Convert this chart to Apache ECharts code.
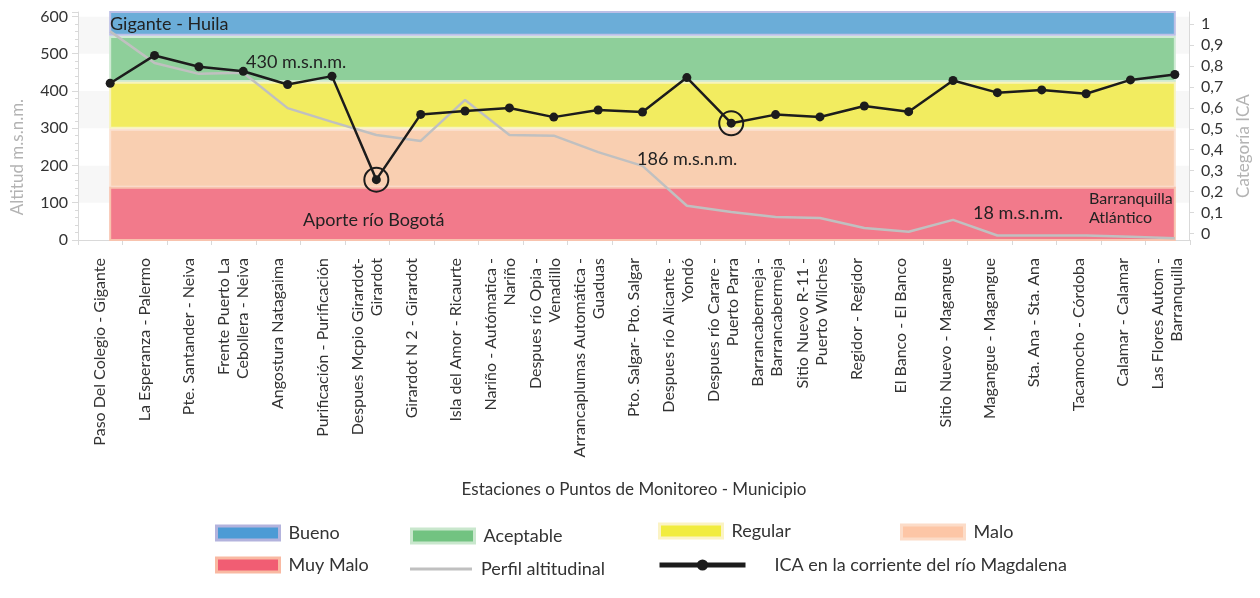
<!DOCTYPE html>
<html>
<head>
<meta charset="utf-8">
<script src="https://cdn.jsdelivr.net/npm/echarts@6/dist/echarts.min.js"></script>
<style>
  html, body { margin: 0; padding: 0; background: #fff; }
  #chart { width: 1260px; height: 598px; }
</style>
</head>
<body>
<div id="chart"></div>
<script>
// estaciones de monitoreo (eje x)
var estaciones = [
  'Paso Del Colegio - Gigante',
  'La Esperanza - Palermo',
  'Pte. Santander - Neiva',
  'Frente Puerto La\nCebollera - Neiva',
  'Angostura Natagaima',
  'Purificación - Purificación',
  'Despues Mcpio Girardot-\nGirardot',
  'Girardot N 2 - Girardot',
  'Isla del Amor - Ricaurte',
  'Nariño - Autómatica -\nNariño',
  'Despues río Opia -\nVenadillo',
  'Arrancaplumas Automática -\nGuaduas',
  'Pto. Salgar- Pto. Salgar',
  'Despues río Alicante -\nYondó',
  'Despues río Carare -\nPuerto Parra',
  'Barrancabermeja -\nBarrancabermeja',
  'Sitio Nuevo R-11 -\nPuerto Wilches',
  'Regidor - Regidor',
  'El Banco - El Banco',
  'Sitio Nuevo - Magangue',
  'Magangue - Magangue',
  'Sta. Ana - Sta. Ana',
  'Tacamocho - Córdoba',
  'Calamar - Calamar',
  'Las Flores Autom -\nBarranquilla'
]
// perfil altitudinal (m.s.n.m.)
var altitud = [560, 475, 446, 449, 354, 317, 282, 266, 376, 282, 280, 236, 199,
  92, 75, 62, 59, 32, 22, 54, 12, 12, 12, 9, 5]
// ICA en la corriente
var ica = [0.718, 0.851, 0.797, 0.775, 0.712, 0.752, 0.257, 0.569, 0.585, 0.600,
  0.556, 0.590, 0.580, 0.745, 0.527, 0.568, 0.557, 0.609, 0.582, 0.731,
  0.673, 0.686, 0.668, 0.734, 0.760]
// puntos destacados con circulo
var destacados = [6, 14]
// ticks del eje derecho
var icaTicks = [0, 0.1, 0.2, 0.3, 0.4, 0.5, 0.6, 0.7, 0.8, 0.9, 1]
// franjas de calidad (en unidades del eje de altitud)
var bandNames = ['Bueno', 'Aceptable', 'Regular', 'Malo', 'Muy Malo']
var bandLow = [551, 427, 301, 143, 0]
var bandHigh = [612, 545, 422, 296, 140]

var bandStyle = [
  { fill: '#6badd8', border: '#bcbfe6', legend: '#4c9bd5', legendBorder: '#b3b3dd' },
  { fill: '#8ecf9a', border: '#cfead3', legend: '#72c381', legendBorder: '#c9e7cd' },
  { fill: '#f2ec60', border: '#f8f4bb', legend: '#f1ec3e', legendBorder: '#fbf3c4' },
  { fill: '#f9cfb1', border: '#fbe2d2', legend: '#fdc6a6', legendBorder: '#fcdcc8' },
  { fill: '#f27a8b', border: '#f8c3ae', legend: '#f15d73', legendBorder: '#f9b9a2' }
]

var FONT = 'Lato'
var chart = echarts.init(document.getElementById('chart'))

function fmtIca(v) {
  if (v === 0 || v === 1) return String(v)
  return v.toFixed(1).replace('.', ',')
}

var bandSeries = bandNames.map(function(name, i) {
  return {
    name: name,
    type: 'line',
    xAxisIndex: 1,
    yAxisIndex: 0,
    data: [],
    z: 1,
    markArea: {
      silent: true,
      itemStyle: {
        color: bandStyle[i].fill,
        borderColor: bandStyle[i].border,
        borderWidth: 2
      },
      data: [[
        { xAxis: estaciones[0], yAxis: bandLow[i] },
        { xAxis: estaciones[estaciones.length - 1], yAxis: bandHigh[i] }
      ]]
    }
  }
})

function legendItem(name, left, top, w, h, extra, pad) {
  return {
    left: left,
    top: top,
    padding: 0,
    itemWidth: w,
    itemHeight: h,
    selectedMode: false,
    textStyle: { fontSize: 18, color: '#333', fontFamily: FONT, padding: [0, 0, 0, pad] },
    data: [Object.assign({ name: name }, extra)]
  }
}

function bandLegend(i, left, top) {
  return legendItem(bandNames[i], left, top, 63, 14, {
    icon: 'rect',
    itemStyle: { color: bandStyle[i].legend, borderColor: bandStyle[i].legendBorder, borderWidth: 3 }
  }, 4)
}

function note(text, x, y, size) {
  return {
    type: 'text', x: x, y: y, z: 100,
    style: { text: text, font: (size || 18) + 'px ' + FONT, fill: '#222', verticalAlign: 'middle', align: 'left' }
  }
}

var option = {
  animation: false,
  backgroundColor: '#fff',
  grid: [
    { left: 78, right: 70, top: 12, bottom: 358 },
    { left: 88, right: 60, top: 12, bottom: 358 }
  ],
  xAxis: [
    {
      type: 'category',
      gridIndex: 0,
      data: estaciones,
      boundaryGap: true,
      offset: 5,
      axisLine: { lineStyle: { color: '#d9d9d9', width: 1 } },
      axisTick: { show: true, interval: 0, length: 5, lineStyle: { color: '#d9d9d9' } },
      axisLabel: {
        interval: 0, rotate: 90, margin: 13,
        fontSize: 16, lineHeight: 19, color: '#333', fontFamily: FONT
      },
      name: 'Estaciones o Puntos de Monitoreo - Municipio',
      nameLocation: 'middle',
      nameGap: 236,
      nameTextStyle: { fontSize: 17, color: '#333', fontFamily: FONT }
    },
    {
      type: 'category',
      gridIndex: 1,
      data: estaciones,
      boundaryGap: true,
      show: false
    }
  ],
  yAxis: [
    {
      type: 'value',
      gridIndex: 1,
      position: 'left',
      min: 0,
      max: 612,
      interval: 100,
      offset: 10,
      splitLine: { show: false },
      axisLine: { show: true, lineStyle: { color: '#d9d9d9' } },
      axisTick: { show: true, length: 6, lineStyle: { color: '#d9d9d9' } },
      minorTick: { show: true, splitNumber: 5, length: 3, lineStyle: { color: '#d9d9d9' } },
      axisLabel: { showMaxLabel: false, fontSize: 16, color: '#333', margin: 10, fontFamily: FONT },
      name: 'Altitud m.s.n.m.',
      nameLocation: 'middle',
      nameGap: 52,
      nameTextStyle: { fontSize: 17, color: '#b3b3b3', fontFamily: FONT, padding: [0, 62, 0, 0] }
    },
    {
      type: 'value',
      gridIndex: 1,
      position: 'right',
      min: -0.0315,
      max: 1.0586,
      offset: -8,
      splitLine: { show: false },
      axisLine: { show: true, lineStyle: { color: '#d9d9d9' } },
      axisTick: { show: true, customValues: icaTicks, length: 5, lineStyle: { color: '#d9d9d9' } },
      axisLabel: {
        customValues: icaTicks, formatter: fmtIca,
        fontSize: 16, color: '#333', margin: 12, fontFamily: FONT
      },
      name: 'Categoría ICA',
      nameLocation: 'middle',
      nameGap: 46,
      nameTextStyle: { fontSize: 17, color: '#b3b3b3', fontFamily: FONT, padding: [0, 40, 0, 0] }
    },
    {
      // franjas grises alternas del fondo
      type: 'value',
      gridIndex: 0,
      min: 0,
      max: 612,
      interval: 100,
      axisLine: { show: false },
      axisTick: { show: false },
      axisLabel: { show: false },
      splitLine: { show: false },
      splitArea: { show: true, areaStyle: { color: ['#ffffff', '#f7f7f7'] } }
    }
  ],
  legend: [
    bandLegend(0, 215, 524),
    bandLegend(1, 410, 527),
    bandLegend(2, 658, 522),
    bandLegend(3, 900, 523),
    bandLegend(4, 215, 556),
    legendItem('Perfil altitudinal', 410, 560, 62, 3, {
      icon: 'rect', itemStyle: { color: '#c0c0c0' }
    }, 4),
    legendItem('ICA en la corriente del río Magdalena', 657, 556, 86, 14, {
      lineStyle: { color: '#1c1c1c', width: 5 }, itemStyle: { color: '#1c1c1c' }
    }, 24)
  ],
  graphic: [
    note('Gigante - Huila', 110, 24),
    note('430 m.s.n.m.', 246, 62),
    note('Aporte río Bogotá', 303, 220),
    note('186 m.s.n.m.', 637, 159),
    note('18 m.s.n.m.', 973, 213),
    note('Barranquilla', 1089, 199, 16),
    note('Atlántico', 1089, 218, 16)
  ],
  series: bandSeries.concat([
    {
      name: 'Perfil altitudinal',
      type: 'line',
      xAxisIndex: 1,
      yAxisIndex: 0,
      data: altitud,
      symbol: 'none',
      z: 3,
      lineStyle: { color: '#c0c0c0', width: 2.5 },
      itemStyle: { color: '#c0c0c0' }
    },
    {
      name: 'ICA en la corriente del río Magdalena',
      type: 'line',
      xAxisIndex: 1,
      yAxisIndex: 1,
      data: ica,
      symbol: 'circle',
      symbolSize: 9,
      z: 4,
      lineStyle: { color: '#1c1c1c', width: 2.5 },
      itemStyle: { color: '#1c1c1c' },
      markPoint: {
        silent: true,
        symbol: 'circle',
        symbolSize: 24,
        label: { show: false },
        itemStyle: { color: 'rgba(0,0,0,0)', borderColor: '#1c1c1c', borderWidth: 2 },
        data: destacados.map(function(i) {
          return { coord: [estaciones[i], ica[i]] }
        })
      }
    }
  ])
}

chart.setOption(option)
</script>
</body>
</html>
